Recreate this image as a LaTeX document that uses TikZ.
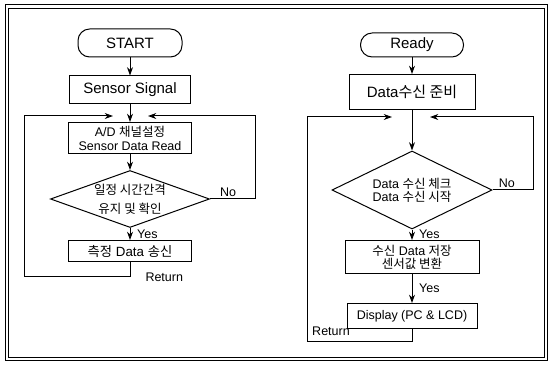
\documentclass[tikz,border=0pt]{standalone}
\usepackage{fontspec}
\setmainfont{Liberation Sans}
\newfontfamily\krfont{Noto Sans CJK KR}
\newcommand{\ko}[1]{{\krfont #1}}
\usetikzlibrary{shapes.geometric,arrows.meta,positioning}

\begin{document}
\begin{tikzpicture}[
  x=0.6pt, y=-0.6pt,
  term/.style={draw, rounded corners=7pt, line width=0.6pt, align=center,
               inner sep=0pt, font=\fontsize{9}{11}\selectfont},
  proc/.style={draw, line width=0.6pt, align=center, inner sep=0pt,
               font=\fontsize{9}{11}\selectfont},
  small/.style={font=\fontsize{7.5}{8.5}\selectfont},
  dec/.style={draw, diamond, line width=0.6pt, inner sep=0pt},
  lbl/.style={font=\fontsize{7.5}{9}\selectfont, inner sep=1pt},
  flow/.style={-{Stealth[length=5pt,width=3.6pt]}, line width=0.6pt},
  frame/.style={line width=0.5pt}
]
\useasboundingbox (0,0) rectangle (549,365);

%% ---------- FRAME ----------
\draw[frame] (5,4) rectangle (547,360);
\draw[frame] (8,8) rectangle (544,357);

%% ---------- LEFT FLOW (x = 130) ----------
\node[term, minimum width=62.4pt, minimum height=16.8pt] (start) at (130,43) {START};
\node[proc, minimum width=72.6pt, minimum height=16.8pt] (sig)   at (130,90) {Sensor Signal};
\node[proc, small, minimum width=73.8pt, minimum height=18.6pt]
                                                          (ad)    at (130,138)
     {A/D \ko{채널설정}\\Sensor Data Read};
\node[dec, minimum width=95.4pt, minimum height=34.2pt,
      label={[small, align=center]center:\ko{일정 시간간격}\\[3pt]\ko{유지 및 확인}}]
                                                          (chk1)  at (130,199) {};
\node[proc, font=\fontsize{8}{9}\selectfont, minimum width=73.8pt, minimum height=12.6pt]
                                                          (send)  at (130,251)
     {\ko{측정} Data \ko{송신}};

\coordinate (retL) at (24,116);
\coordinate (inLw) at (113,116);
\coordinate (inLe) at (148,116);

\draw[flow] (start) -- (sig);
\draw[flow] (sig) -- (ad);
\draw[flow] (ad) -- (chk1);
\draw[flow] (chk1) -- node[lbl, right=3pt]{Yes} (send);
\draw[flow] (chk1.east) -- node[lbl, above, pos=0.4]{No} ++(45,0) |- (inLe);
\draw[flow] (send.south) -- ++(0,15) node[lbl, right=8pt]{Return} -| (retL) -- (inLw);

%% ---------- RIGHT FLOW (x = 412) ----------
\node[term, minimum width=61.8pt, minimum height=14.4pt] (ready) at (412,45) {Ready};
\node[proc, minimum width=75.6pt, minimum height=21pt]   (prep)  at (412,92)
     {Data\ko{수신 준비}};
\node[dec, minimum width=96pt, minimum height=46.8pt,
      label={[small, align=center, font=\fontsize{7.5}{8}\selectfont]center:Data \ko{수신 체크}\\Data \ko{수신 시작}}]
                                                          (chk2)  at (412,190) {};
\node[proc, small, font=\fontsize{7.5}{8}\selectfont, minimum width=80.4pt, minimum height=19.8pt]
                                                          (store) at (412,257)
     {\ko{수신} Data \ko{저장}\\\ko{센서값 변환}};
\node[proc, small, minimum width=78pt, minimum height=15pt] (disp) at (412,316)
     {Display (PC \& LCD)};

\coordinate (retR) at (307,117);
\coordinate (inRw) at (392,117);
\coordinate (inRe) at (430,117);

\draw[flow] (ready) -- (prep);
\draw[flow] (prep) -- (chk2);
\draw[flow] (chk2) -- node[lbl, right=3pt]{Yes} (store);
\draw[flow] (store) -- node[lbl, right=3pt]{Yes} (disp);
\draw[flow] (chk2.east) -- node[lbl, above, pos=0.35]{No} ++(41,0) |- (inRe);
\draw[flow] (disp.south) -- ++(0,12) -| (retR) -- (inRw);
\node[lbl] (retlbl) at (331,331) {Return};

\end{tikzpicture}
\end{document}
